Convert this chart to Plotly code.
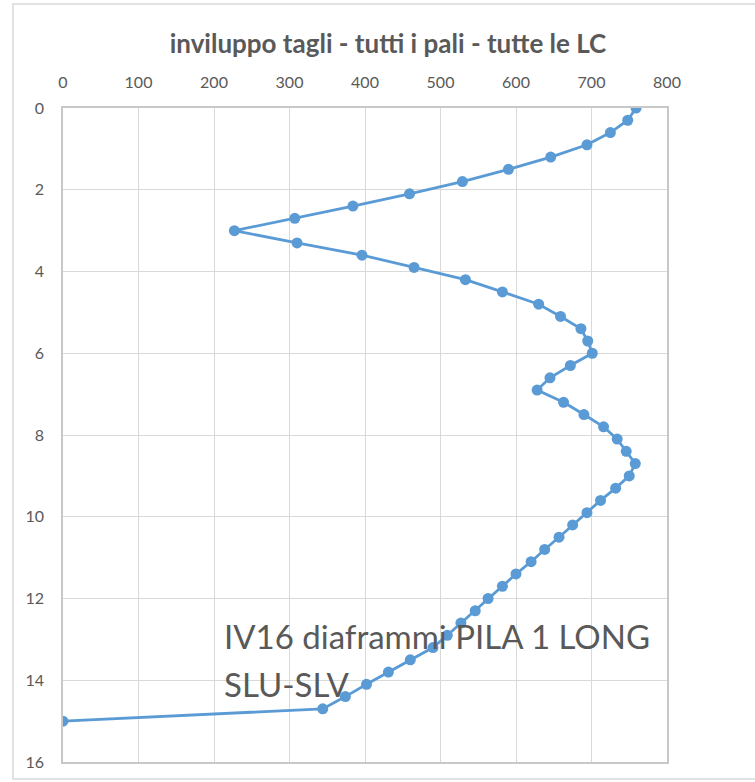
import plotly.graph_objects as go

# Data
depth = [0.0, 0.3, 0.6, 0.9, 1.2, 1.5, 1.8, 2.1, 2.4, 2.7, 3.0, 3.3, 3.6, 3.9, 4.2,
         4.5, 4.8, 5.1, 5.4, 5.7, 6.0, 6.3, 6.6, 6.9, 7.2, 7.5, 7.8, 8.1, 8.4, 8.7,
         9.0, 9.3, 9.6, 9.9, 10.2, 10.5, 10.8, 11.1, 11.4, 11.7, 12.0, 12.3, 12.6,
         12.9, 13.2, 13.5, 13.8, 14.1, 14.4, 14.7, 15.0]
shear = [759, 748, 725, 694, 646, 590, 529, 459, 384, 307, 227, 310, 396, 465, 533,
         582, 630, 659, 686, 695, 701, 672, 645, 628, 663, 690, 716, 734, 746, 758,
         750, 732, 712, 694, 675, 657, 638, 620, 600, 582, 563, 546, 527,
         509, 490, 460, 431, 402, 374, 344, 0]

title_text = "inviluppo tagli - tutti i pali - tutte le LC"
note_line1 = "IV16 diaframmi PILA 1 LONG"
note_line2 = "SLU-SLV"

x_ticks = [0, 100, 200, 300, 400, 500, 600, 700, 800]
y_ticks = [0, 2, 4, 6, 8, 10, 12, 14, 16]

W, H = 755, 782
ML, MR, MT, MB = 63, 88, 108, 20
pw, ph = W - ML - MR, H - MT - MB

def px_to_paper_x(px):
    return (px - ML) / pw

def px_to_paper_y(py):
    return (H - MB - py) / ph

fig = go.Figure()
fig.add_trace(go.Scatter(
    x=shear, y=depth, mode="lines+markers",
    line=dict(color="#5B9BD5", width=2.8),
    marker=dict(color="#5B9BD5", size=11),
    showlegend=False, hoverinfo="x+y",
))

grid = "#d9d9d9"
font_family = "Lato, Open Sans, sans-serif"
tick_font = dict(family=font_family, size=16, color="#595959")

fig.update_layout(
    width=W, height=H,
    margin=dict(l=ML, r=MR, t=MT, b=MB),
    paper_bgcolor="white", plot_bgcolor="white",
    title=dict(text="<b>" + title_text + "</b>",
               font=dict(family=font_family, size=26, color="#595959"),
               x=388 / W, xanchor="center",
               y=1 - 44 / H, yanchor="middle"),
    xaxis=dict(side="top", range=[0, 800], tickvals=x_ticks,
               showgrid=True, gridcolor=grid, gridwidth=1,
               showline=True, linecolor="#c8c8c8", linewidth=1.5, mirror=True,
               zeroline=False, ticks="", ticklabelstandoff=12, tickfont=tick_font),
    yaxis=dict(range=[16, 0], tickvals=y_ticks,
               showgrid=True, gridcolor=grid, gridwidth=1,
               showline=True, linecolor="#c8c8c8", linewidth=1.5, mirror=True,
               zeroline=False, ticks="", ticklabelstandoff=14, tickfont=tick_font),
    shapes=[dict(type="rect", xref="paper", yref="paper",
                 x0=px_to_paper_x(13), x1=px_to_paper_x(764),
                 y0=px_to_paper_y(779), y1=px_to_paper_y(4),
                 line=dict(color="#d9d9d9", width=1.5), fillcolor="rgba(0,0,0,0)",
                 layer="below")],
    annotations=[
        dict(text=note_line1, xref="x", yref="y", x=210, y=12.92,
             xanchor="left", yanchor="middle", showarrow=False,
             font=dict(family=font_family, size=33, color="#595959")),
        dict(text=note_line2, xref="x", yref="y", x=210, y=14.08,
             xanchor="left", yanchor="middle", showarrow=False,
             font=dict(family=font_family, size=33, color="#595959")),
    ],
)

fig.write_html("out.html")
